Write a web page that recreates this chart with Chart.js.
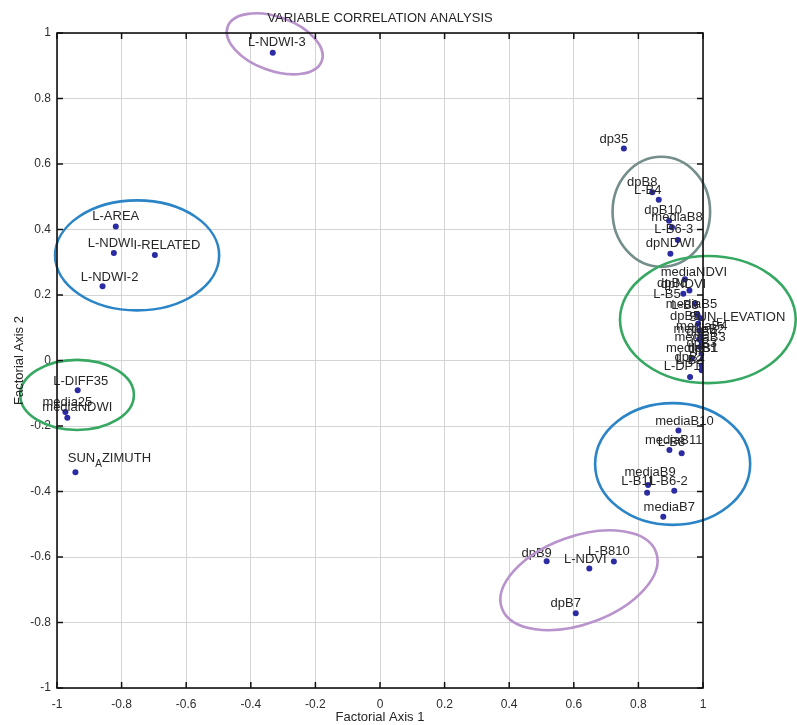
<!DOCTYPE html>
<html>
<head>
<meta charset="utf-8">
<script src="https://cdn.jsdelivr.net/npm/chart.js@4/dist/chart.umd.min.js"></script>
<style>
  html, body { margin: 0; padding: 0; background: #fff; }
  #wrap { width: 797px; height: 725px; }
</style>
</head>
<body>
<div id="wrap"><canvas id="c" width="797" height="725"></canvas></div>
<script>
// Variable loadings on the first two factorial axes
const variableNames = [
  'L-NDWI-3', 'dp35', 'dpB8', 'L-B4', 'dpB10', 'mediaB8', 'L-B6-3', 'dpNDWI',
  'L-AREA', 'L-NDWI', 'I-RELATED', 'L-NDWI-2',
  'L-DIFF35', 'media25', 'mediaNDWI', 'SUN_AZIMUTH',
  'dpB9', 'L-NDVI', 'L-B810', 'dpB7',
  'mediaB10', 'L-B8', 'mediaB11', 'mediaB9', 'L-B11', 'L-B6-2', 'mediaB7',
  'mediaNDVI', 'dpNDVI', 'dpB6', 'L-B5', 'mediaB5', 'L-B3', 'dpB5', 'SUN_ELEVATION',
  'mediaB4', 'mediaB2', 'dpB4', 'mediaB3', 'dpB3', 'mediaB1', 'dpB1', 'dpB2', 'L-B2', 'L-DP1'
];
const axis1Loadings = [
  -0.332, 0.755, 0.843, 0.863, 0.895, 0.904, 0.922, 0.899,
  -0.818, -0.824, -0.697, -0.859,
  -0.936, -0.974, -0.968, -0.943,
  0.516, 0.648, 0.724, 0.606,
  0.924, 0.896, 0.934, 0.830, 0.827, 0.911, 0.877,
  0.944, 0.958, 0.939, 0.975, 0.983, 0.991, 0.985, 0.991,
  0.996, 0.988, 0.996, 0.991, 0.996, 0.965, 1.000, 0.996, 0.996, 0.960
];
const axis2Loadings = [
  0.940, 0.647, 0.514, 0.491, 0.427, 0.407, 0.368, 0.326,
  0.409, 0.328, 0.322, 0.227,
  -0.091, -0.157, -0.175, -0.341,
  -0.613, -0.635, -0.614, -0.772,
  -0.214, -0.273, -0.283, -0.380, -0.404, -0.398, -0.477,
  0.248, 0.214, 0.204, 0.173, 0.140, 0.130, 0.112, 0.092,
  0.075, 0.065, 0.056, 0.041, 0.021, 0.005, 0.005, -0.015, -0.030, -0.050
];
const tickValues = [-1, -0.8, -0.6, -0.4, -0.2, 0, 0.2, 0.4, 0.6, 0.8, 1];
const tickLabels = ['-1', '-0.8', '-0.6', '-0.4', '-0.2', '0', '0.2', '0.4', '0.6', '0.8', '1'];

const chartTitle = 'VARIABLE CORRELATION ANALYSIS';
const xAxisTitle = 'Factorial Axis 1';
const yAxisTitle = 'Factorial Axis 2';

// Small pixel nudges so crowded labels sit where the analyst placed them
const labelNudge = {
  'L-NDWI-3': [4, 0], 'dp35': [-10, 1], 'dpB8': [-10, 0], 'L-B4': [-11, 1],
  'dpB10': [-6, 0], 'mediaB8': [5, 0], 'L-B6-3': [-4, -1],
  'L-NDWI': [-3, 0], 'I-RELATED': [12, 0], 'L-NDWI-2': [7, 1],
  'L-DIFF35': [3, 1], 'media25': [2, 1], 'mediaNDWI': [10, 0], 'SUN_AZIMUTH': [34, -4],
  'dpB9': [-10, 2], 'L-NDVI': [-4, 1], 'L-B810': [-5, 0], 'dpB7': [-10, 0],
  'mediaB10': [6, 1], 'L-B8': [2, 3], 'mediaB11': [-8, -3], 'mediaB9': [2, -3],
  'L-B11': [-9, -1], 'L-B6-2': [-6, 1], 'mediaB7': [6, 1],
  'mediaNDVI': [9, 3], 'dpNDVI': [-6, 4], 'dpB6': [-11, 0], 'L-B5': [-28, 1],
  'mediaB5': [-6, 0], 'L-B3': [-15, -3], 'dpB5': [-13, 3], 'SUN_ELEVATION': [37, -3],
  'L-DP1': [-8, 0], 'dpB2': [-12, 2], 'L-B2': [-12, 0]
};

// Hand-drawn group outlines (centre/radii in axis units, tilt in degrees)
const groupOutlines = [
  { cx: -0.326, cy: 0.967, rx: 0.155, ry: 0.082, tilt: 20, color: '#b993cc' },
  { cx: -0.752, cy: 0.321, rx: 0.254, ry: 0.168, tilt: 0, color: '#2a84c6' },
  { cx: -0.938, cy: -0.105, rx: 0.176, ry: 0.107, tilt: 0, color: '#36a862' },
  { cx: 0.871, cy: 0.454, rx: 0.151, ry: 0.168, tilt: 0, color: '#748e8b' },
  { cx: 1.015, cy: 0.125, rx: 0.272, ry: 0.194, tilt: 0, color: '#36a862' },
  { cx: 0.906, cy: -0.316, rx: 0.240, ry: 0.186, tilt: 0, color: '#2a84c6' },
  { cx: 0.616, cy: -0.671, rx: 0.254, ry: 0.134, tilt: -20, color: '#b993cc' }
];

const FONT = '"Liberation Sans", Arial, Helvetica, sans-serif';
const TEXT_COLOR = '#262626';

// Split "SUN_AZIMUTH" style names into normal and subscript runs
function splitSubscripts(text) {
  const parts = [];
  let buf = '';
  for (let i = 0; i < text.length; i++) {
    if (text[i] === '_' && i + 1 < text.length) {
      if (buf) parts.push({ t: buf, sub: false });
      buf = '';
      parts.push({ t: text[i + 1], sub: true });
      i++;
    } else {
      buf += text[i];
    }
  }
  if (buf) parts.push({ t: buf, sub: false });
  return parts;
}

function drawName(ctx, text, cx, cy) {
  const parts = splitSubscripts(text);
  const mainFont = '13px ' + FONT;
  const subFont = '10px ' + FONT;
  let total = 0;
  parts.forEach(p => { ctx.font = p.sub ? subFont : mainFont; p.w = ctx.measureText(p.t).width; total += p.w; });
  let x = cx - total / 2;
  ctx.textAlign = 'left';
  ctx.textBaseline = 'middle';
  parts.forEach(p => {
    ctx.font = p.sub ? subFont : mainFont;
    ctx.fillText(p.t, x, p.sub ? cy + 6 : cy);
    x += p.w;
  });
}

const decorPlugin = {
  id: 'decor',
  beforeDraw(chart) {
    const ctx = chart.ctx;
    ctx.save();
    ctx.fillStyle = '#ffffff';
    ctx.fillRect(0, 0, chart.width, chart.height);
    ctx.restore();
  },
  afterDatasetsDraw(chart) {
    const ctx = chart.ctx;
    const xs = chart.scales.x, ys = chart.scales.y;
    const area = chart.chartArea;
    const meta = chart.getDatasetMeta(0);

    // variable names above their points
    ctx.save();
    ctx.fillStyle = TEXT_COLOR;
    meta.data.forEach((pt, i) => {
      const name = variableNames[i];
      const n = labelNudge[name] || [0, 0];
      drawName(ctx, name, pt.x + n[0], pt.y - 10 + n[1]);
    });
    ctx.restore();

    // group outlines
    const pxPerX = Math.abs(xs.getPixelForValue(1) - xs.getPixelForValue(0));
    const pxPerY = Math.abs(ys.getPixelForValue(1) - ys.getPixelForValue(0));
    ctx.save();
    ctx.lineWidth = 2.6;
    groupOutlines.forEach(g => {
      ctx.beginPath();
      ctx.strokeStyle = g.color;
      ctx.ellipse(xs.getPixelForValue(g.cx), ys.getPixelForValue(g.cy),
        g.rx * pxPerX, g.ry * pxPerY, g.tilt * Math.PI / 180, 0, Math.PI * 2);
      ctx.stroke();
    });
    ctx.restore();

    // box frame with inward tick marks on all four sides
    ctx.save();
    ctx.strokeStyle = '#111';
    ctx.lineWidth = 1.6;
    ctx.strokeRect(area.left, area.top, area.right - area.left, area.bottom - area.top);
    ctx.lineWidth = 1.5;
    ctx.beginPath();
    tickValues.forEach(v => {
      const px = xs.getPixelForValue(v);
      ctx.moveTo(px, area.bottom); ctx.lineTo(px, area.bottom - 6);
      ctx.moveTo(px, area.top); ctx.lineTo(px, area.top + 6);
      const py = ys.getPixelForValue(v);
      ctx.moveTo(area.left, py); ctx.lineTo(area.left + 6, py);
      ctx.moveTo(area.right, py); ctx.lineTo(area.right - 6, py);
    });
    ctx.stroke();
    ctx.restore();

    // titles
    ctx.save();
    ctx.fillStyle = TEXT_COLOR;
    ctx.textAlign = 'center';
    ctx.textBaseline = 'middle';
    ctx.font = '13px ' + FONT;
    const midX = (area.left + area.right) / 2;
    ctx.fillText(chartTitle, midX, 18);
    ctx.fillText(xAxisTitle, midX, 717);
    ctx.translate(19, (area.top + area.bottom) / 2);
    ctx.rotate(-Math.PI / 2);
    ctx.fillText(yAxisTitle, 0, 0);
    ctx.restore();
  }
};

const points = variableNames.map((n, i) => ({ x: axis1Loadings[i], y: axis2Loadings[i] }));

const fixedTicks = scale => { scale.ticks = tickValues.map(v => ({ value: v })); };
const tickLabel = (value) => {
  const i = tickValues.findIndex(t => Math.abs(t - value) < 1e-9);
  return i >= 0 ? tickLabels[i] : '';
};

new Chart(document.getElementById('c'), {
  type: 'scatter',
  data: {
    datasets: [{
      data: points,
      pointRadius: 3,
      pointHoverRadius: 3,
      pointBackgroundColor: '#2b2ba3',
      pointBorderWidth: 0,
      showLine: false
    }]
  },
  options: {
    responsive: false,
    animation: false,
    devicePixelRatio: 1,
    layout: { padding: { left: 0, right: 94, top: 33, bottom: 0 } },
    plugins: { legend: { display: false }, tooltip: { enabled: false }, title: { display: false } },
    scales: {
      x: {
        type: 'linear', min: -1, max: 1,
        afterBuildTicks: fixedTicks,
        afterFit: s => { s.height = 37; },
        grid: { color: '#d4d4d4', lineWidth: 1, drawTicks: false },
        border: { display: false },
        ticks: { padding: 9, maxRotation: 0, autoSkip: false, color: '#2e2e2e',
          font: { family: FONT, size: 12 }, callback: tickLabel }
      },
      y: {
        type: 'linear', min: -1, max: 1,
        afterBuildTicks: fixedTicks,
        afterFit: s => { s.width = 57; },
        grid: { color: '#d4d4d4', lineWidth: 1, drawTicks: false },
        border: { display: false },
        ticks: { padding: 6, autoSkip: false, color: '#2e2e2e',
          font: { family: FONT, size: 12 }, callback: tickLabel }
      }
    }
  },
  plugins: [decorPlugin]
});
</script>
</body>
</html>
